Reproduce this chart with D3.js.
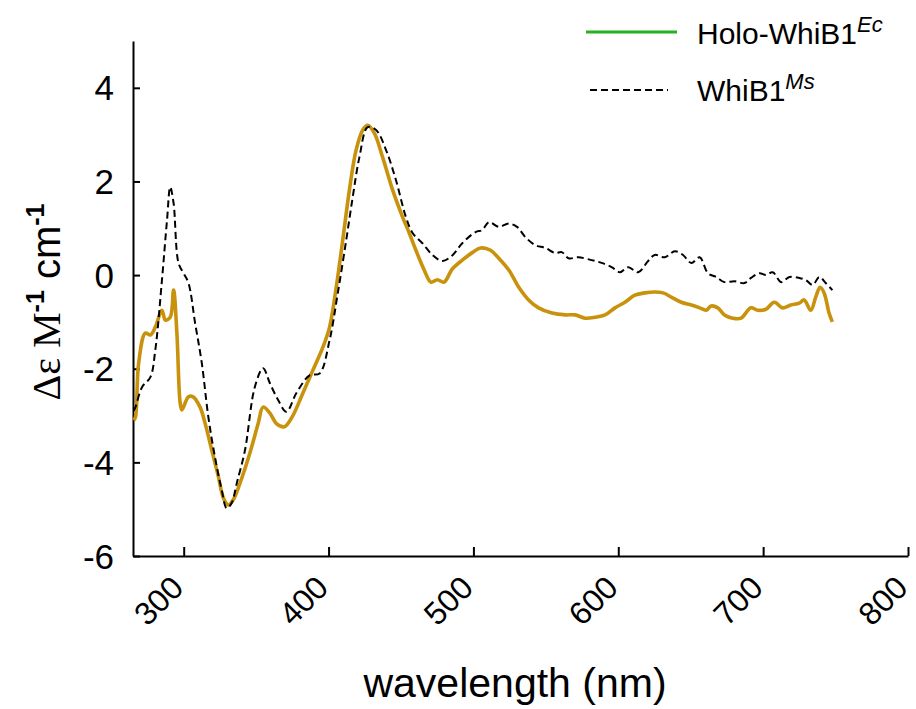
<!DOCTYPE html>
<html>
<head>
<meta charset="utf-8">
<script src="https://cdn.jsdelivr.net/npm/d3@7"></script>
<style>
  body { margin: 0; background: #fff; }
  svg { display: block; }
</style>
</head>
<body>
<script>
// CD spectra
var holoNm = [265.5, 266.7, 268.9, 273.5, 277, 280.4, 285, 287.3, 290.7, 293, 295.3, 297.6, 298.8, 303.3, 306.5,
  311.3, 314.8, 319.4, 323.9, 327.4, 330.8, 334.2, 338.8, 345.7, 351.4, 354.8, 359.5, 364, 369.5, 374.5,
  382.3, 389.2, 396.1, 400.7, 405.3, 409.8, 414.4, 419, 423.6, 427, 431.6, 437.3, 444.2, 451.1, 455.7,
  460.3, 466, 470.6, 475.1, 479.7, 485.4, 492.3, 499.2, 505, 511.8, 517.5, 524.4, 531.3, 538.1, 545,
  554.2, 563.4, 570.2, 577.1, 584, 590.9, 597.7, 604.6, 611.5, 618.4, 625.2, 630.9, 636.6, 643.5, 650.4,
  656.2, 660.7, 664.1, 668.7, 673.3, 679, 684.7, 691.6, 696.2, 701.9, 707.7, 713.4, 719.1, 724.9, 728.3,
  732.9, 736.3, 739.3, 742.1, 745.5, 747.8];
var holoDe = [-3.1, -3.03, -1.88, -1.24, -1.28, -1.11, -0.75, -0.96, -0.9, -0.32, -1.24, -2.74, -2.88, -2.6, -2.6,
  -2.82, -3.17, -3.74, -4.3, -4.76, -4.91, -4.8, -4.45, -3.8, -3.17, -2.82, -2.95, -3.17, -3.24, -3.05,
  -2.52, -2.03, -1.54, -1.11, -0.26, 0.75, 1.82, 2.67, 3.1, 3.2, 3.03, 2.52, 1.82, 1.24, 0.9,
  0.53, 0.11, -0.15, -0.1, -0.15, 0.13, 0.32, 0.48, 0.58, 0.53, 0.36, 0.11, -0.26, -0.53, -0.7,
  -0.81, -0.85, -0.85, -0.92, -0.9, -0.85, -0.7, -0.58, -0.43, -0.38, -0.36, -0.38, -0.47, -0.58, -0.64,
  -0.7, -0.75, -0.66, -0.7, -0.85, -0.92, -0.92, -0.7, -0.75, -0.73, -0.58, -0.7, -0.64, -0.6, -0.53,
  -0.75, -0.47, -0.26, -0.38, -0.81, -1.0];

var msNm = [265.5, 266.7, 271.3, 277, 280.4, 285, 288.5, 290.7, 293, 296.4, 299.9, 303.3, 307.9, 312.5, 317,
  321.6, 326.3, 329.7, 333.1, 336.6, 342.3, 349.1, 354.8, 359.5, 365.2, 370.9, 377.8, 386.9, 393.8, 400.7,
  406.4, 412.2, 416.7, 421.3, 427, 432.8, 439.7, 446.5, 453.4, 458, 464.8, 471.7, 478.6, 485.4, 492.3,
  501.5, 506, 510.7, 517.5, 524.4, 530.1, 535.9, 542.7, 549.6, 556.5, 561, 565.6, 572.5, 581.6, 588.5,
  595.4, 601.2, 606.9, 613.7, 620.6, 625.2, 632.1, 639, 644.7, 650.4, 656.2, 661.9, 667.6, 673.3, 680.2,
  687.1, 691.6, 697.4, 702, 706.6, 712.4, 718.1, 725, 729.6, 734.2, 738.8, 743.2, 747.8];
var msDe = [-2.9, -2.82, -2.39, -2.18, -1.6, -0.1, 1.18, 1.88, 1.54, 0.26, 0.04, -0.17, -1.03, -1.88, -3.03,
  -3.89, -4.6, -4.98, -4.87, -4.45, -3.74, -2.39, -1.99, -2.31, -2.67, -2.92, -2.52, -2.14, -2.1, -1.39,
  -0.38, 0.75, 1.67, 2.52, 3.16, 3.1, 2.67, 2.03, 1.24, 0.9, 0.68, 0.43, 0.3, 0.42, 0.68,
  0.92, 0.96, 1.13, 1.03, 1.1, 1.03, 0.81, 0.64, 0.58, 0.47, 0.49, 0.36, 0.38, 0.32, 0.26,
  0.17, 0.06, 0.17, 0.06, 0.3, 0.43, 0.38, 0.51, 0.43, 0.26, 0.38, 0.04, -0.04, -0.15, -0.13,
  -0.17, -0.06, 0.04, 0, 0.06, -0.15, -0.04, -0.06, -0.11, -0.21, -0.04, -0.17, -0.32];

var xTicks = [300, 400, 500, 600, 700, 800];
var yTicks = [-6, -4, -2, 0, 2, 4];

var svg = d3.select("body").append("svg").attr("width", 916).attr("height", 709);

var x = d3.scaleLinear().domain([265, 800]).range([133, 908]);
var y = d3.scaleLinear().domain([-6, 5]).range([556, 41]);

var sans = "'Liberation Sans', Arial, sans-serif";
var serif = "'Liberation Serif', 'Times New Roman', serif";

// axes
svg.append("g").attr("transform", "translate(0,556)")
  .call(d3.axisBottom(x).tickValues(xTicks).tickSize(-9).tickSizeOuter(0).tickFormat(""));
svg.append("g").attr("transform", "translate(133,0)")
  .call(d3.axisLeft(y).tickValues(yTicks).tickSize(-7).tickSizeOuter(0).tickFormat(""));
svg.selectAll(".domain, .tick line").attr("stroke", "#000").attr("stroke-width", 2);

// x tick labels, slanted
svg.selectAll(".xlab").data(xTicks).enter().append("text")
  .attr("transform", function(d){ return "translate(" + (x(d) - 12) + ",576) rotate(-45)"; })
  .attr("text-anchor", "end")
  .attr("dy", "0.6em")
  .attr("font-family", sans).attr("font-size", 32)
  .text(function(d){ return d; });

svg.selectAll(".ylab").data(yTicks).enter().append("text")
  .attr("x", 114).attr("y", function(d){ return y(d); })
  .attr("dy", "0.36em")
  .attr("text-anchor", "end")
  .attr("font-family", sans).attr("font-size", 35)
  .text(function(d){ return d; });

svg.append("text")
  .attr("x", 515).attr("y", 697)
  .attr("text-anchor", "middle")
  .attr("font-family", sans).attr("font-size", 41)
  .text("wavelength (nm)");

var yt = svg.append("text")
  .attr("transform", "translate(60,302) rotate(-90)")
  .attr("text-anchor", "middle")
  .attr("font-size", 40);
yt.append("tspan").attr("font-family", serif).text("\u0394\u03b5 M");
yt.append("tspan").attr("font-family", sans).attr("font-weight", "bold").attr("font-size", 25).attr("dy", -16).text("-1");
yt.append("tspan").attr("font-family", sans).attr("dy", 16).text(" cm");
yt.append("tspan").attr("font-family", sans).attr("font-weight", "bold").attr("font-size", 25).attr("dy", -16).text("-1");

// curves
var line = d3.line()
  .x(function(d){ return x(d[0]); })
  .y(function(d){ return y(d[1]); })
  .curve(d3.curveCatmullRom.alpha(0.5));

svg.append("path")
  .datum(d3.zip(holoNm, holoDe))
  .attr("d", line)
  .attr("fill", "none")
  .attr("stroke", "#c8920c")
  .attr("stroke-width", 3.6)
  .attr("stroke-linejoin", "round");

svg.append("path")
  .datum(d3.zip(msNm, msDe))
  .attr("d", line)
  .attr("fill", "none")
  .attr("stroke", "#000")
  .attr("stroke-width", 2)
  .attr("stroke-dasharray", "7,4");

// legend
var lg = svg.append("g");
lg.append("line").attr("x1", 586).attr("x2", 677).attr("y1", 32).attr("y2", 32)
  .attr("stroke", "#22b222").attr("stroke-width", 3);
lg.append("line").attr("x1", 590).attr("x2", 668).attr("y1", 90).attr("y2", 90)
  .attr("stroke", "#000").attr("stroke-width", 2).attr("stroke-dasharray", "7,4");

var t1 = lg.append("text").attr("x", 697).attr("y", 44).attr("font-family", sans).attr("font-size", 30);
t1.append("tspan").text("Holo-WhiB1");
t1.append("tspan").attr("font-style", "italic").attr("font-size", 22).attr("dy", -12).text("Ec");

var t2 = lg.append("text").attr("x", 697).attr("y", 101).attr("font-family", sans).attr("font-size", 30);
t2.append("tspan").text("WhiB1");
t2.append("tspan").attr("font-style", "italic").attr("font-size", 22).attr("dy", -12).text("Ms");
</script>
</body>
</html>
